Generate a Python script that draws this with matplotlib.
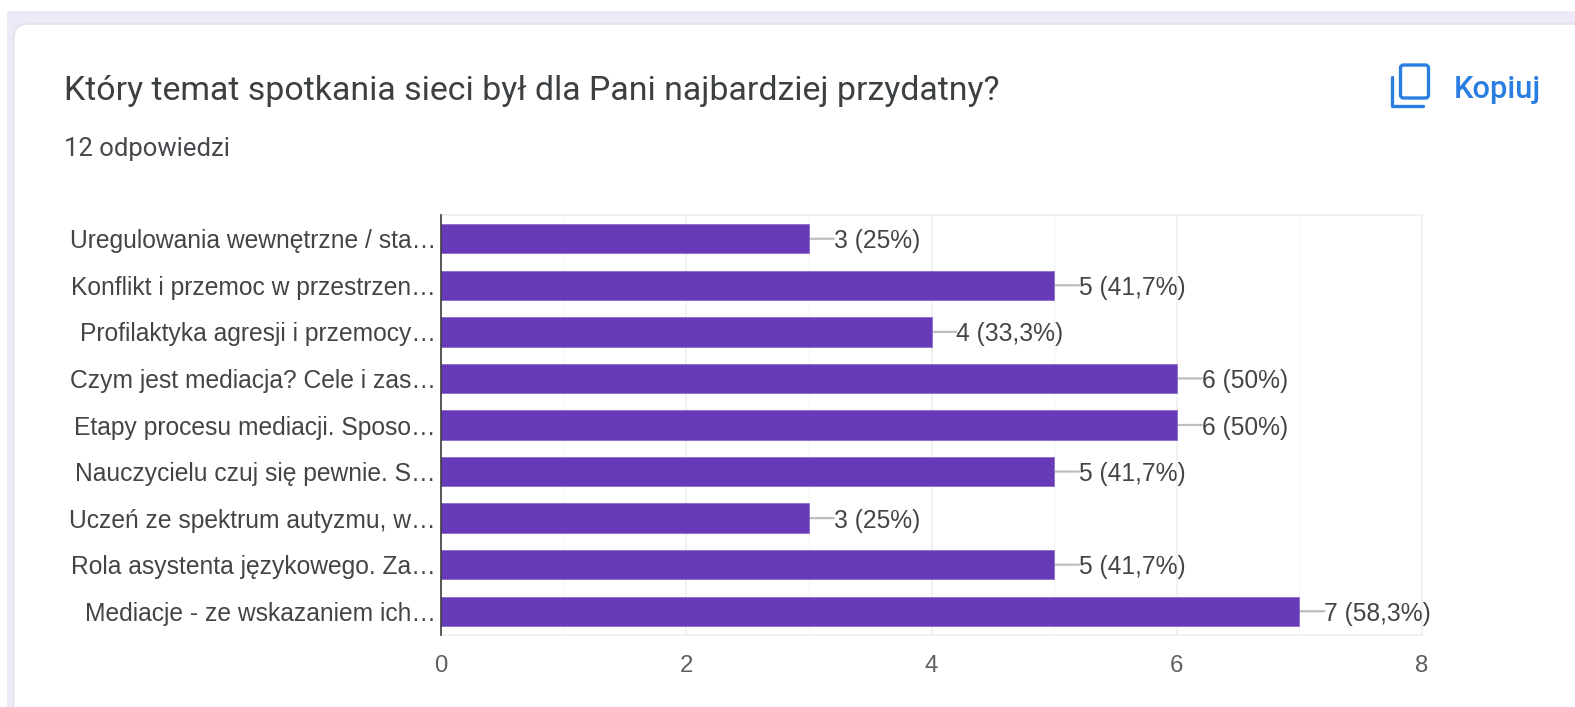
import matplotlib
matplotlib.use("Agg")
import matplotlib.pyplot as plt
from matplotlib.patches import Rectangle, FancyBboxPatch

categories = [
    "Uregulowania wewnętrzne / sta…",
    "Konflikt i przemoc w przestrzen…",
    "Profilaktyka agresji i przemocy…",
    "Czym jest mediacja? Cele i zas…",
    "Etapy procesu mediacji. Sposo…",
    "Nauczycielu czuj się pewnie. S…",
    "Uczeń ze spektrum autyzmu, w…",
    "Rola asystenta językowego. Za…",
    "Mediacje - ze wskazaniem ich…",
]
counts = [3, 5, 4, 6, 6, 5, 3, 5, 7]
value_labels = ["3 (25%)", "5 (41,7%)", "4 (33,3%)", "6 (50%)", "6 (50%)",
                "5 (41,7%)", "3 (25%)", "5 (41,7%)", "7 (58,3%)"]
major_ticks = [0, 2, 4, 6, 8]
minor_ticks = [1, 3, 5, 7]
title = "Który temat spotkania sieci był dla Pani najbardziej przydatny?"
subtitle = "12 odpowiedzi"
copy_label = "Kopiuj"

W, H = 1575, 707
PURPLE = "#673AB7"
LAV = "#EDE9F7"
BLUE = "#2A7DE1"
px = 1 / 100 * 72  # points per pixel

fig = plt.figure(figsize=(W / 100, H / 100), dpi=100, facecolor="white")

# page layer in pixel coordinates
bg = fig.add_axes([0, 0, 1, 1], zorder=0)
bg.set_xlim(0, W); bg.set_ylim(H, 0); bg.axis("off")
bg.add_patch(Rectangle((7, 11), W, H, fc=LAV, ec="none"))
bg.add_patch(FancyBboxPatch((14 + 14, 24 + 14), W + 100, H + 100,
                            boxstyle="round,pad=14,rounding_size=14",
                            fc="white", ec="#E2E1E8", lw=1))
bg.text(64, 91, title, family="Roboto", fontsize=33.9 * px, color="#3C4043",
        va="center", ha="left")
bg.text(64, 149, subtitle, family="Roboto", fontsize=25.6 * px, color="#45484C",
        va="center", ha="left")
bg.text(1454, 89, copy_label, family="Roboto", fontsize=30.8 * px, color=BLUE,
        fontweight="medium", va="center", ha="left")
# copy icon
bg.add_patch(FancyBboxPatch((1400.5, 65), 28, 33, boxstyle="round,pad=0,rounding_size=3",
                            fc="none", ec=BLUE, lw=3.3 * px))
bg.plot([1392, 1392, 1423], [77, 106, 106], color=BLUE, lw=3.3 * px,
        solid_joinstyle="round", solid_capstyle="round")

# chart
L, R, T, B = 441, 1422, 215, 635
ax = fig.add_axes([L / W, 1 - B / H, (R - L) / W, (B - T) / H], zorder=1)
ax.patch.set_alpha(0)
y = list(range(len(categories)))
ax.set_xlim(0, 8)
ax.set_ylim(len(categories) - 0.5 + 0.01, -0.5 - 0.01)
ax.barh(y, counts, height=0.63, color=PURPLE, edgecolor="#8E6CCB", linewidth=0.6, zorder=3)

ax.set_xticks(major_ticks)
ax.set_xticks(minor_ticks, minor=True)
ax.grid(True, axis="x", which="major", color="#EEEEEE", lw=1.6 * px, zorder=0)
ax.grid(True, axis="x", which="minor", color="#F6F6F6", lw=1.4 * px, zorder=0)
ax.tick_params(axis="both", which="both", length=0)
ax.tick_params(axis="x", pad=19.6 * px, labelsize=24 * px, labelcolor="#5F5F5F")
ax.set_xticklabels([str(t) for t in major_ticks], family="Liberation Sans")
ax.set_yticks(y)
ax.set_yticklabels(categories, family="Liberation Sans", fontsize=24.6 * px, color="#444444",
                   va="center_baseline")
ax.tick_params(axis="y", pad=5 * px)

for s in ["top", "right", "bottom"]:
    ax.spines[s].set_color("#EEEEEE")
    ax.spines[s].set_linewidth(1.6 * px)
ax.spines["left"].set_color("#333333")
ax.spines["left"].set_linewidth(1.6 * px)
ax.spines["left"].set_zorder(5)

for yi, v, lab in zip(y, counts, value_labels):
    ax.annotate("", xy=(v, yi), xytext=(25 * px, 0), textcoords="offset points",
                annotation_clip=False, zorder=2,
                arrowprops=dict(arrowstyle="-", color="#BDBDBD", lw=2.2 * px,
                                shrinkA=0, shrinkB=0))
    ax.annotate(lab, xy=(v, yi), xytext=(25 * px, 0), textcoords="offset points",
                va="center_baseline", ha="left", family="Liberation Sans",
                fontsize=24.6 * px, color="#444444", zorder=6, annotation_clip=False)

fig.savefig("out.png", dpi=100, facecolor="white")
